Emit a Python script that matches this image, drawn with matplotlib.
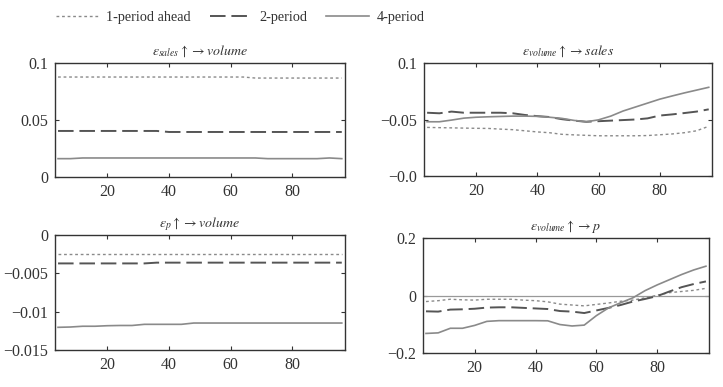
import matplotlib
matplotlib.use("Agg")
import matplotlib.pyplot as plt
from matplotlib.lines import Line2D

plt.rcParams['font.family'] = ['Liberation Serif', 'DejaVu Serif']
plt.rcParams['mathtext.fontset'] = 'stix'

x = [4, 8, 12, 16, 20, 24, 28, 32, 36, 40, 44, 48, 52, 56, 60, 64, 68, 72, 76, 80, 84, 88, 92, 96]

# top-left: eps_sales -> volume
tl_1 = [0.0877] * 16 + [0.0868] * 8
tl_2 = [0.0404] * 9 + [0.0395] * 15
tl_4 = [0.0161, 0.0161] + [0.0167] * 15 + [0.0161] * 5 + [0.0167, 0.0161]

# top-right: eps_volume -> sales
tr_1 = [0.043, 0.0428, 0.0426, 0.0424, 0.0422, 0.0421, 0.0415, 0.041, 0.040, 0.039, 0.0383, 0.0369,
        0.0364, 0.036, 0.0356, 0.0356, 0.0356, 0.0356, 0.0358, 0.0365, 0.0372, 0.0383, 0.040, 0.044]
tr_2 = [0.056, 0.0555, 0.057, 0.056, 0.056, 0.056, 0.056, 0.0555, 0.054, 0.053, 0.0522, 0.0503,
        0.049, 0.048, 0.0485, 0.049, 0.0495, 0.050, 0.051, 0.0535, 0.0545, 0.0557, 0.057, 0.059]
tr_4 = [0.048, 0.048, 0.0495, 0.0512, 0.052, 0.0524, 0.0527, 0.053, 0.053, 0.0528, 0.052, 0.051,
        0.0492, 0.048, 0.0497, 0.053, 0.0575, 0.061, 0.0645, 0.068, 0.0708, 0.0735, 0.076, 0.0785]

# bottom-left: eps_p -> volume
bl_1 = [-0.0025] * 24
bl_2 = [-0.0037] * 8 + [-0.0036] * 16
bl_4 = [-0.01204, -0.0120, -0.0119, -0.0119, -0.01183, -0.0118, -0.0118, -0.01165, -0.01165,
        -0.01165, -0.01165] + [-0.01148] * 13

# bottom-right: eps_volume -> p
br_1 = [-0.021, -0.018, -0.013, -0.015, -0.016, -0.013, -0.013, -0.013, -0.016, -0.018, -0.022, -0.030,
        -0.033, -0.036, -0.031, -0.026, -0.020, -0.016, -0.008, 0.001, 0.010, 0.014, 0.018, 0.025]
br_2 = [-0.055, -0.056, -0.049, -0.048, -0.046, -0.042, -0.041, -0.041, -0.043, -0.045, -0.047, -0.054,
        -0.056, -0.061, -0.052, -0.043, -0.033, -0.021, -0.012, -0.002, 0.014, 0.029, 0.040, 0.049]
br_4 = [-0.132, -0.130, -0.114, -0.114, -0.104, -0.090, -0.0875, -0.0875, -0.0875, -0.0875, -0.088, -0.101,
        -0.106, -0.103, -0.070, -0.043, -0.025, -0.008, 0.017, 0.037, 0.055, 0.073, 0.089, 0.102]

legend_labels = ['1-period ahead', '2-period', '4-period']
xticks = [20, 40, 60, 80]

c1, c2, c4 = '#8a8a8a', '#555555', '#8a8a8a'
st1 = dict(color=c1, lw=1.0, ls=(0, (2, 2)))
st2 = dict(color=c2, lw=1.4, ls=(0, (8, 3)))
st4 = dict(color=c4, lw=1.2, ls='-')

fig = plt.figure(figsize=(7.23, 3.87), dpi=100)

positions = [
    [0.076, 0.5426, 0.401, 0.2946],
    [0.5865, 0.5452, 0.398, 0.292],
    [0.076, 0.0956, 0.401, 0.297],
    [0.585, 0.0879, 0.3956, 0.297],
]
titles = [r'$\varepsilon_{sales}\uparrow\rightarrow volume$',
          r'$\varepsilon_{volume}\uparrow\rightarrow sales$',
          r'$\varepsilon_{p}\uparrow\rightarrow volume$',
          r'$\varepsilon_{volume}\uparrow\rightarrow p$']
series = [(tl_1, tl_2, tl_4), (tr_1, tr_2, tr_4), (bl_1, bl_2, bl_4), (br_1, br_2, br_4)]
ylims = [(0, 0.1), (0, 0.1), (-0.015, 0), (-0.2, 0.2)]
yticks = [[0, 0.05, 0.1], [0, 0.05, 0.1], [-0.015, -0.01, -0.005, 0], [-0.2, 0, 0.2]]
yticklabels = [['0', '0.05', '0.1'], ['\u22120.0', '\u22120.05', '0.1'],
               ['\u22120.015', '\u22120.01', '\u22120.005', '0'], ['\u22120.2', '0', '0.2']]

for i in range(4):
    ax = fig.add_axes(positions[i])
    s1, s2, s4 = series[i]
    if i == 3:
        ax.axhline(0, color='#999999', lw=0.9)
    ax.plot(x, s1, **st1)
    ax.plot(x, s2, **st2)
    ax.plot(x, s4, **st4)
    ax.set_xlim(3, 97)
    ax.set_ylim(*ylims[i])
    ax.set_xticks(xticks)
    ax.set_yticks(yticks[i])
    ax.set_yticklabels(yticklabels[i])
    ax.tick_params(direction='in', top=True, right=True, length=3, labelsize=11.5,
                   colors='#333333', labelcolor='#333333', pad=5)
    for sp in ax.spines.values():
        sp.set_color('#333333')
        sp.set_linewidth(1.0)
    ax.set_title(titles[i], fontsize=10, color='#333333', pad=6)

handles = [Line2D([], [], **st1), Line2D([], [], **st2), Line2D([], [], **st4)]
fig.legend(handles, legend_labels, loc='upper left', bbox_to_anchor=(0.06, 1.005), ncol=3,
           frameon=False, fontsize=10.3, handlelength=3.0, columnspacing=1.3, handletextpad=0.5,
           labelcolor='#333333')

fig.savefig('out.png', dpi=100, facecolor='white')
